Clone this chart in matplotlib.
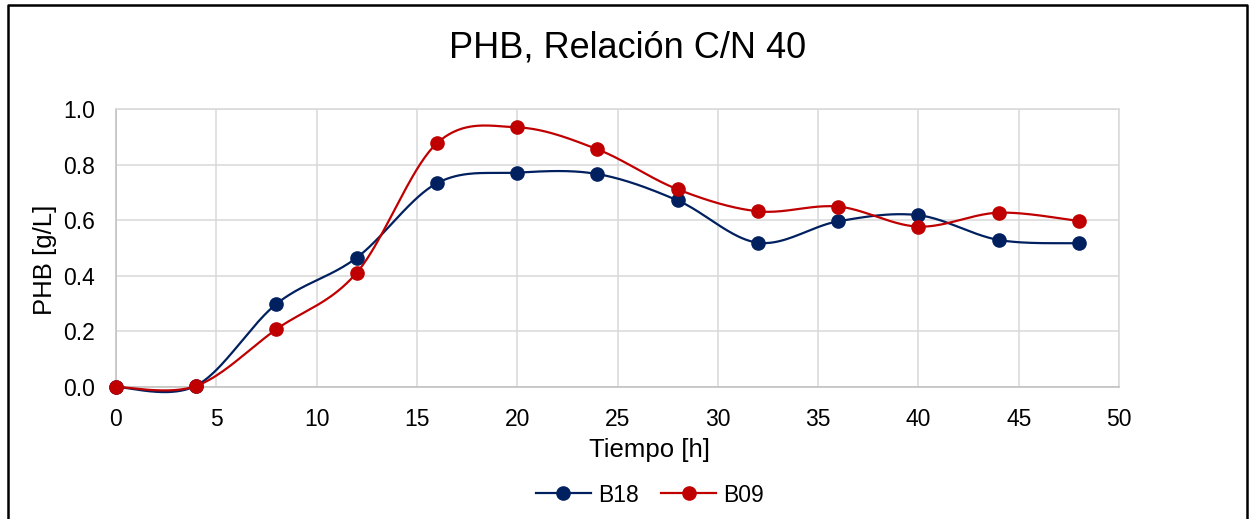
import matplotlib.pyplot as plt
import numpy as np
from matplotlib.lines import Line2D

plt.rcParams['font.family'] = ['Liberation Sans', 'DejaVu Sans']

tiempo = [0, 4, 8, 12, 16, 20, 24, 28, 32, 36, 40, 44, 48]
b18 = [0.0, 0.005, 0.299, 0.465, 0.733, 0.771, 0.766, 0.671, 0.519, 0.596, 0.618, 0.529, 0.517]
b09 = [0.0, 0.004, 0.208, 0.411, 0.877, 0.934, 0.855, 0.711, 0.632, 0.649, 0.577, 0.627, 0.597]

series = [("B18", b18, "#002060"), ("B09", b09, "#C00000")]


def smooth(x, y, n=40):
    # Excel-like smoothing: Catmull-Rom through the points as cubic Bezier segments
    p = np.column_stack([x, y]).astype(float)
    p = np.vstack([p[0], p, p[-1]])
    out = []
    for i in range(1, len(p) - 2):
        p0, p1, p2, p3 = p[i - 1], p[i], p[i + 1], p[i + 2]
        c1 = p1 + (p2 - p0) / 6
        c2 = p2 - (p3 - p1) / 6
        t = np.linspace(0, 1, n)[:, None]
        seg = ((1 - t) ** 3 * p1 + 3 * (1 - t) ** 2 * t * c1
               + 3 * (1 - t) * t ** 2 * c2 + t ** 3 * p2)
        out.append(seg if i == 1 else seg[1:])
    out = np.vstack(out)
    return out[:, 0], out[:, 1]


fig = plt.figure(figsize=(12.55, 5.19), dpi=100)
ax = fig.add_axes([116 / 1255, 1 - 387 / 519, 1003 / 1255, 278 / 519])

for name, vals, col in series:
    sx, sy = smooth(tiempo, vals)
    ax.plot(sx, sy, color=col, lw=1.6, clip_on=False, zorder=3)
    ax.plot(tiempo, vals, 'o', color=col, ms=9.5, clip_on=False, zorder=4)

ax.set_xlim(0, 50)
ax.set_ylim(0, 1.0)
ax.set_xticks(np.arange(0, 51, 5))
ax.set_yticks(np.arange(0, 1.01, 0.2))
ax.set_yticklabels([f"{v:.1f}" for v in np.arange(0, 1.01, 0.2)])
ax.grid(True, color="#D9D9D9", lw=1.1)
ax.set_axisbelow(True)
for s in ax.spines.values():
    s.set_color("#D9D9D9")
    s.set_linewidth(1.1)
ax.spines["left"].set_color("#BFBFBF")
ax.spines["bottom"].set_color("#BFBFBF")
ax.tick_params(axis='both', length=0, labelsize=16.5, colors="black")
ax.tick_params(axis='x', pad=15)
ax.tick_params(axis='y', pad=15)

ax.set_xlabel("Tiempo [h]", fontsize=18.5)
ax.xaxis.set_label_coords(0.532, -0.185)
ax.set_ylabel("PHB [g/L]", fontsize=18.5)
ax.yaxis.set_label_coords(-0.059, 0.457)

fig.text(0.5, 1 - 58 / 519, "PHB, Relación C/N 40", fontsize=26, ha="center", va="baseline")

handles = [Line2D([], [], color=c, lw=1.6, marker='o', ms=9.5) for _, _, c in series]
fig.legend(handles, [n for n, _, _ in series], loc="center", bbox_to_anchor=(650 / 1255, 1 - 495 / 519),
           ncol=2, frameon=False, fontsize=16.5, handlelength=2.4, columnspacing=1.0, handletextpad=0.3)

# chart border (left, top, right)
fig.add_artist(Line2D([8 / 1255, 8 / 1255, 1247 / 1255, 1247 / 1255], [0, 1 - 4.5 / 519, 1 - 4.5 / 519, 0],
                      transform=fig.transFigure, color="black", lw=1.8))

fig.savefig("out.png", dpi=100)
